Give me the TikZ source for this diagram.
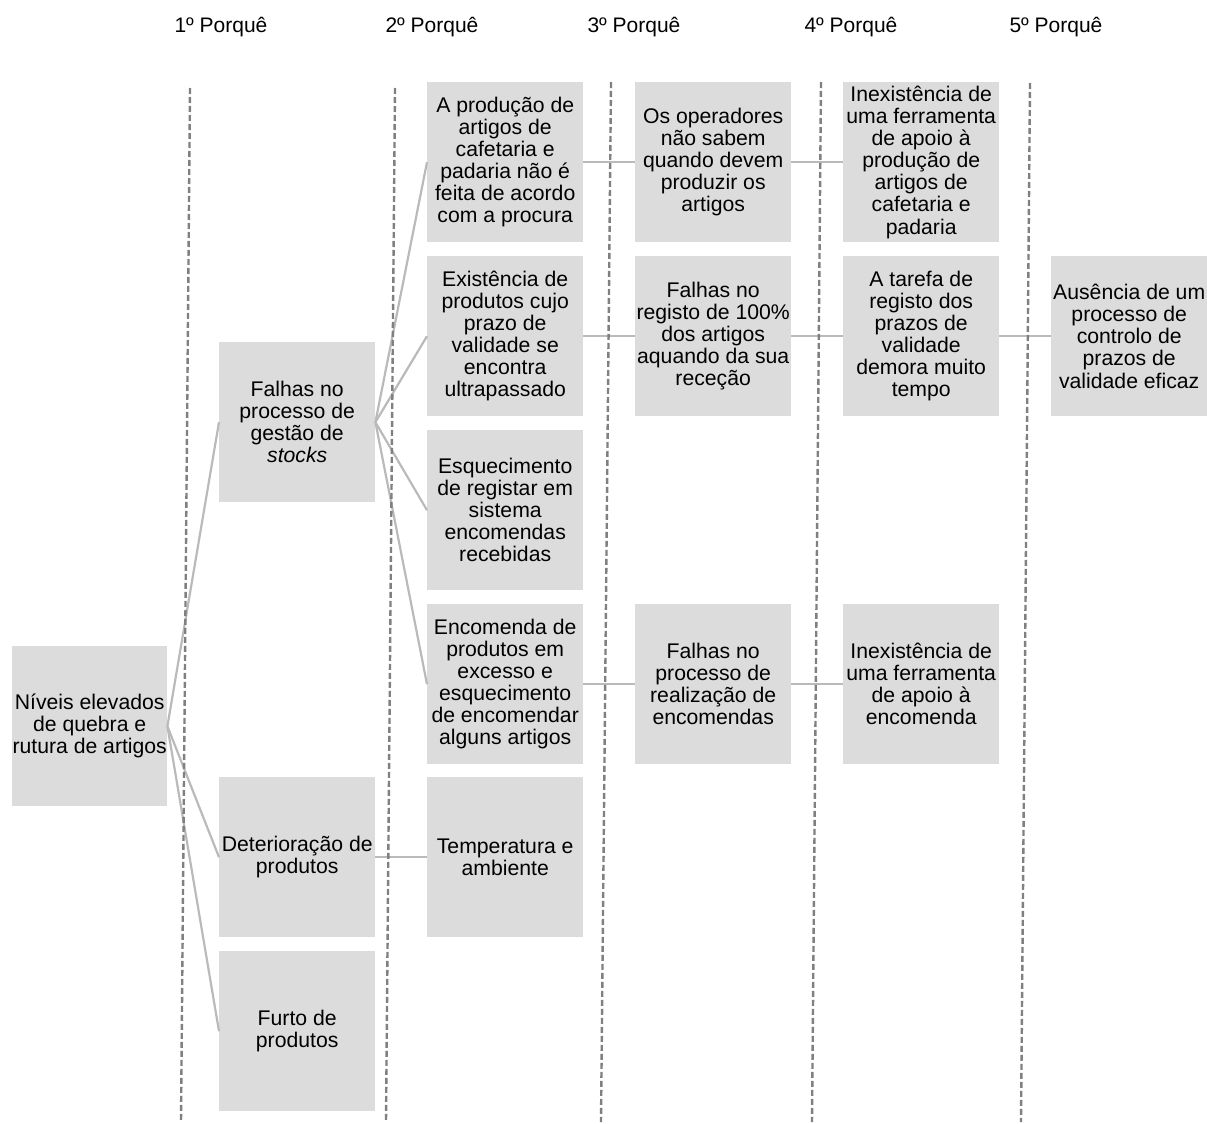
\documentclass[tikz,border=0pt]{standalone}
\usepackage{fontspec}
\setmainfont{Liberation Sans}
\definecolor{boxfill}{RGB}{220,220,220}
\definecolor{guide}{RGB}{128,128,128}
\definecolor{linkgray}{RGB}{186,186,186}
\begin{document}
\begin{tikzpicture}[x=1pt,y=-1pt,
  cause/.style={fill=boxfill, minimum width=156pt, minimum height=160pt,
    inner sep=0pt, align=center, anchor=north west,
    font=\fontsize{21.2}{22.1}\selectfont},
  head/.style={font=\fontsize{21}{24}\selectfont, inner sep=0pt},
  guideline/.style={draw=guide, line width=2.4pt, dash pattern=on 6pt off 3pt},
  link/.style={draw=linkgray, line width=2.2pt}]
\useasboundingbox (0,0) rectangle (1207,1124);

% column headings
\node[head] (h1) at (221,27) {1º Porquê};
\node[head] (h2) at (432,27) {2º Porquê};
\node[head] (h3) at (634,27) {3º Porquê};
\node[head] (h4) at (851,27) {4º Porquê};
\node[head] (h5) at (1056,27) {5º Porquê};

% problem
\node[cause, minimum width=155pt] (root) at (12,646) {Níveis elevados\\de quebra e\\rutura de artigos};

% first why
\node[cause] (stock) at (219,342) {Falhas no\\processo de\\gestão de\\\textit{stocks}};
\node[cause] (deter) at (219,777) {Deterioração de\\produtos};
\node[cause] (furto) at (219,951) {Furto de\\produtos};

% second why
\node[cause] (prod) at (427,82) {A produção de\\artigos de\\cafetaria e\\padaria não é\\feita de acordo\\com a procura};
\node[cause] (valid) at (427,256) {Existência de\\produtos cujo\\prazo de\\validade se\\encontra\\ultrapassado};
\node[cause] (esq) at (427,430) {Esquecimento\\de registar em\\sistema\\encomendas\\recebidas};
\node[cause] (enc) at (427,604) {Encomenda de\\produtos em\\excesso e\\esquecimento\\de encomendar\\alguns artigos};
\node[cause] (temp) at (427,777) {Temperatura e\\ambiente};

% third why
\node[cause] (oper) at (635,82) {Os operadores\\não sabem\\quando devem\\produzir os\\artigos};
\node[cause] (reg) at (635,256) {Falhas no\\registo de 100\%\\dos artigos\\aquando da sua\\receção};
\node[cause] (proc) at (635,604) {Falhas no\\processo de\\realização de\\encomendas};

% fourth why
\node[cause] (tool) at (843,82) {Inexistência de\\uma ferramenta\\de apoio à\\produção de\\artigos de\\cafetaria e\\padaria};
\node[cause] (task) at (843,256) {A tarefa de\\registo dos\\prazos de\\validade\\demora muito\\tempo};
\node[cause] (tool2) at (843,604) {Inexistência de\\uma ferramenta\\de apoio à\\encomenda};

% fifth why
\node[cause] (ctrl) at (1051,256) {Ausência de um\\processo de\\controlo de\\prazos de\\validade eficaz};

% branching connectors
\draw[link] (root.east) -- (stock.west);
\draw[link] (root.east) -- (deter.west);
\draw[link] (root.east) -- (furto.west);
\draw[link] (stock.east) -- (prod.west);
\draw[link] (stock.east) -- (valid.west);
\draw[link] (stock.east) -- (esq.west);
\draw[link] (stock.east) -- (enc.west);

% chain connectors
\draw[link] (deter.east) -- (temp.west);
\draw[link] (prod.east) -- (oper.west);
\draw[link] (oper.east) -- (tool.west);
\draw[link] (valid.east) -- (reg.west);
\draw[link] (reg.east) -- (task.west);
\draw[link] (task.east) -- (ctrl.west);
\draw[link] (enc.east) -- (proc.west);
\draw[link] (proc.east) -- (tool2.west);

% dashed column separators
\coordinate (g1a) at (190,88);   \coordinate (g1b) at (181,1122);
\coordinate (g2a) at (395,88);   \coordinate (g2b) at (386,1122);
\coordinate (g3a) at (611,82);   \coordinate (g3b) at (601,1122);
\coordinate (g4a) at (821,82);   \coordinate (g4b) at (812,1122);
\coordinate (g5a) at (1030,83);  \coordinate (g5b) at (1021,1122);
\foreach \g in {1,...,5} \draw[guideline] (g\g a) -- (g\g b);
\end{tikzpicture}
\end{document}
